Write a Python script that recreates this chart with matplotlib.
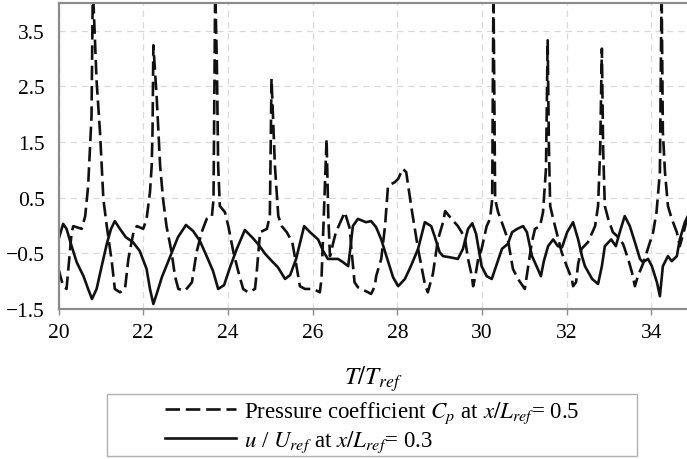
import matplotlib
matplotlib.use("Agg")
import matplotlib.pyplot as plt
from matplotlib.patches import Rectangle

plt.rcParams['font.family'] = ['Liberation Serif', 'DejaVu Serif']
plt.rcParams['mathtext.fontset'] = 'stix'

# ---- data ----
cp_t = [20.00, 20.11, 20.19, 20.31, 20.35, 20.55, 20.63, 20.70, 20.78, 20.81,
        20.90, 20.98, 21.06, 21.14, 21.26, 21.33, 21.45, 21.57, 21.65, 21.77,
        21.85, 22.00, 22.08, 22.16, 22.20, 22.22, 22.24, 22.32, 22.40, 22.47,
        22.55, 22.67, 22.75, 22.83, 22.99, 23.15, 23.26, 23.38, 23.50, 23.62,
        23.66, 23.70, 23.74, 23.77, 23.81, 23.93, 24.01, 24.13, 24.25, 24.36,
        24.48, 24.64, 24.68, 24.76, 24.92, 24.99, 25.03, 25.11, 25.19, 25.27,
        25.39, 25.52, 25.59, 25.70, 25.82, 26.02, 26.17, 26.21, 26.25, 26.29,
        26.33, 26.37, 26.41, 26.48, 26.55, 26.76, 26.88, 26.91, 26.99, 27.07,
        27.31, 27.38, 27.47, 27.50, 27.62, 27.71, 27.78, 27.94, 28.02, 28.13,
        28.21, 28.25, 28.35, 28.49, 28.65, 28.72, 28.84, 28.96, 29.08, 29.13,
        29.28, 29.43, 29.52, 29.60, 29.67, 29.76, 29.79, 29.83, 29.91, 29.99,
        30.11, 30.19, 30.24, 30.27, 30.31, 30.38, 30.50, 30.61, 30.73, 30.85,
        31.01, 31.09, 31.17, 31.25, 31.37, 31.44, 31.51, 31.55, 31.58, 31.61,
        31.68, 31.76, 31.88, 32.00, 32.12, 32.15, 32.22, 32.27, 32.35, 32.50,
        32.67, 32.74, 32.79, 32.83, 32.86, 32.90, 32.98, 33.09, 33.19, 33.33,
        33.45, 33.54, 33.61, 33.68, 33.80, 33.89, 34.04, 34.12, 34.20, 34.24,
        34.27, 34.32, 34.39, 34.48, 34.60, 34.67, 34.75, 34.84]
cp_val = [-0.78, -1.09, -1.14, -0.12, -0.01, -0.06, 0.17, 0.71, 1.97, 4.30,
          2.59, 1.68, 0.47, -0.01, -0.66, -1.14, -1.20, -1.14, -0.60, -0.12,
          -0.01, -0.06, 0.12, 0.60, 1.07, 1.68, 3.24, 2.28, 1.07, 0.47,
          -0.01, -0.48, -0.91, -1.14, -1.17, -1.02, -0.48, -0.12, 0.12, 0.15,
          0.47, 4.30, 2.87, 1.07, 0.35, 0.24, -0.01, -0.48, -0.84, -1.14,
          -1.20, -1.14, -0.84, -0.12, -0.06, 0.17, 2.64, 1.07, 0.17, -0.01,
          -0.12, -0.30, -0.60, -1.09, -1.14, -1.14, -1.20, -0.96, -0.12, 0.71,
          1.56, 0.17, -0.55, -0.33, -0.12, 0.24, -0.06, -0.37, -1.02, -1.11,
          -1.20, -1.23, -1.09, -0.91, -0.60, -0.01, 0.71, 0.78, 0.84, 1.02,
          0.96, 0.75, 0.24, -0.42, -1.05, -1.20, -0.87, -0.25, 0.06, 0.26,
          0.12, -0.01, -0.12, -0.25, -0.60, -0.91, -1.09, -0.96, -0.60, -0.42,
          -0.01, 0.12, 0.47, 4.30, 0.47, 0.24, -0.01, -0.25, -0.78, -0.96,
          -1.14, -0.73, -0.33, -0.06, -0.01, 0.24, 1.02, 3.33, 1.38, 0.35,
          0.12, -0.12, -0.48, -0.73, -0.96, -1.09, -1.02, -0.69, -0.42, -0.30,
          -0.01, 0.35, 1.38, 3.18, 1.38, 0.35, 0.12, -0.12, -0.19, -0.33,
          -0.60, -0.84, -1.09, -0.91, -0.69, -0.48, -0.12, 0.24, 0.96, 4.30,
          1.68, 0.96, 0.35, 0.12, -0.12, -0.37, -0.15, 0.12]

u_t = [20.00, 20.11, 20.19, 20.31, 20.43, 20.59, 20.70, 20.79, 20.90, 21.02,
       21.14, 21.24, 21.33, 21.45, 21.59, 21.76, 21.92, 22.08, 22.16, 22.24,
       22.33, 22.44, 22.63, 22.82, 23.01, 23.18, 23.34, 23.51, 23.65, 23.77,
       23.91, 24.05, 24.21, 24.40, 24.57, 24.71, 24.88, 25.04, 25.18, 25.35,
       25.47, 25.61, 25.80, 25.94, 26.13, 26.25, 26.36, 26.60, 26.72, 26.84,
       26.89, 26.95, 27.07, 27.26, 27.38, 27.50, 27.62, 27.78, 27.90, 28.02,
       28.18, 28.32, 28.49, 28.65, 28.80, 28.88, 29.00, 29.08, 29.24, 29.43,
       29.55, 29.67, 29.77, 29.86, 29.99, 30.11, 30.23, 30.31, 30.47, 30.61,
       30.71, 30.83, 30.97, 31.06, 31.18, 31.30, 31.39, 31.46, 31.56, 31.68,
       31.79, 31.89, 32.01, 32.15, 32.27, 32.36, 32.43, 32.60, 32.74, 32.83,
       32.90, 33.05, 33.16, 33.26, 33.37, 33.49, 33.61, 33.73, 33.80, 33.92,
       34.01, 34.13, 34.20, 34.27, 34.39, 34.48, 34.60, 34.67, 34.79, 34.86]
u_val = [-0.25, 0.03, -0.06, -0.37, -0.66, -0.91, -1.14, -1.32, -1.14, -0.73,
         -0.33, -0.06, 0.08, -0.06, -0.21, -0.30, -0.46, -0.78, -1.14, -1.41,
         -1.20, -0.93, -0.57, -0.21, 0.01, -0.10, -0.28, -0.57, -0.82, -1.14,
         -1.07, -0.75, -0.42, -0.08, -0.21, -0.33, -0.51, -0.64, -0.75, -0.96,
         -0.89, -0.60, -0.01, -0.12, -0.25, -0.46, -0.60, -0.60, -0.66, -0.73,
         -0.42, -0.01, 0.12, 0.06, 0.08, -0.03, -0.25, -0.64, -0.93, -1.09,
         -0.96, -0.73, -0.42, 0.06, -0.01, -0.19, -0.48, -0.55, -0.57, -0.60,
         -0.42, -0.06, 0.04, -0.15, -0.73, -0.91, -0.96, -0.78, -0.42, -0.33,
         -0.12, -0.06, -0.01, -0.12, -0.55, -0.75, -0.91, -0.64, -0.37, -0.25,
         -0.37, -0.39, -0.12, 0.06, -0.25, -0.55, -0.73, -0.96, -1.05, -0.73,
         -0.37, -0.25, -0.37, -0.10, 0.17, -0.01, -0.30, -0.60, -0.66, -0.60,
         -0.73, -1.02, -1.27, -0.73, -0.55, -0.64, -0.55, -0.25, 0.06, 0.17]

x_ticks = [20, 22, 24, 26, 28, 30, 32, 34]
y_ticks = [-1.5, -0.5, 0.5, 1.5, 2.5, 3.5]
x_label = r'$T/T_{ref}$'
cp_label = r'Pressure coefficient $C_p$ at $x/L_{ref}$= 0.5'
u_label = r'$u$ / $U_{ref}$ at $x/L_{ref}$= 0.3'

# ---- figure ----
fig = plt.figure(figsize=(6.87, 4.60), dpi=100)
ax = fig.add_axes([58.5 / 687, 1 - 310 / 460, (687 - 58.5) / 687, (310 - 4) / 460])

ax.plot(cp_t, cp_val, color='#111111', lw=1.9, linestyle=(0, (5.5, 2.2)),
        label=cp_label, solid_joinstyle='round')
ax.plot(u_t, u_val, color='#111111', lw=1.9, label=u_label,
        solid_joinstyle='round')

ax.set_xlim(20, 34.84)
ax.set_ylim(-1.5, 4.0)
ax.set_xticks(x_ticks)
ax.set_yticks(y_ticks)
ax.set_yticklabels([f'{v:.1f}'.replace('-', '\u2212') for v in y_ticks])

ax.grid(True, color='#d9d9d9', linestyle=(0, (5, 4)), lw=0.9)
ax.set_axisbelow(True)
for side in ['left', 'top', 'bottom']:
    ax.spines[side].set_color('#8c8c8c')
    ax.spines[side].set_linewidth(1.6)
ax.spines['right'].set_visible(False)

ax.tick_params(axis='x', length=4, width=1, color='#8c8c8c', pad=6,
               labelsize=15.5)
ax.tick_params(axis='y', length=0, pad=10, labelsize=15.5)

fig.text(373 / 687, 1 - 379 / 460, x_label, fontsize=18, ha='center',
         va='center')

# legend box
fig.patches.append(Rectangle((107 / 687, 1 - 457 / 460), 530 / 687, 62 / 460,
                             transform=fig.transFigure, fill=False,
                             edgecolor='#b0b0b0', lw=1.0))
leg = fig.legend(loc='upper left', bbox_to_anchor=(165 / 687, 1 - 401 / 460),
                 frameon=False, fontsize=16.5, handlelength=3.1,
                 handletextpad=0.35, labelspacing=0.12, borderpad=0,
                 borderaxespad=0)

fig.savefig('out.png', dpi=100)
